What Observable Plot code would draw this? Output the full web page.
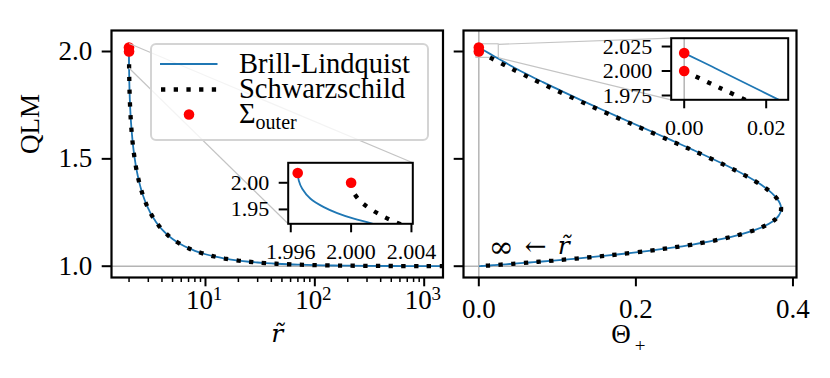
<!DOCTYPE html>
<html><head><meta charset="utf-8">
<script src="https://cdn.jsdelivr.net/npm/d3@7"></script>
<script src="https://cdn.jsdelivr.net/npm/@observablehq/plot@0.6"></script>
<style>
body{margin:0;background:white}
#c{position:relative;width:830px;height:378px;overflow:hidden;background:white;font-family:"Liberation Serif",serif;color:black}
#c svg{position:absolute;left:0;top:0}
.lg{position:absolute;font-size:28.5px;line-height:25px;white-space:nowrap}
</style></head><body><div id="c"></div>
<script>
// ---- data ----
const schwR = [2, 2.0001, 2.0002, 2.0005, 2.001, 2.002, 2.003, 2.004, 2.007, 2.01, 2.02, 2.04, 2.07, 2.1, 2.15, 2.2, 2.3, 2.4, 2.5, 2.6, 2.7, 2.8, 2.9, 3, 3.1, 3.25, 3.4, 3.5, 3.75, 4, 4.5, 5, 6, 7, 8, 10, 12, 15, 20, 25, 30, 40, 50, 70, 100, 150, 200, 300, 500, 1000, 1500];
const schwQ = [2, 1.98596, 1.98020, 1.96887, 1.95627, 1.93872, 1.92548, 1.91447, 1.88847, 1.86823, 1.81900, 1.75434, 1.68934, 1.64174, 1.58211, 1.53668, 1.46934, 1.42020, 1.38197, 1.35100, 1.32523, 1.30334, 1.28445, 1.26795, 1.25338, 1.23444, 1.21826, 1.20871, 1.18826, 1.17157, 1.14590, 1.12702, 1.10102, 1.08392, 1.07180, 1.05573, 1.04555, 1.03576, 1.02633, 1.02084, 1.01725, 1.01282, 1.01021, 1.00724, 1.00505, 1.00335, 1.00251, 1.00167, 1.00100, 1.00050, 1.00033];
const schwTheta = [0, 0.007071, 0.009999, 0.015806, 0.022344, 0.031575, 0.038643, 0.044588, 0.058852, 0.070184, 0.098519, 0.137282, 0.177674, 0.207827, 0.245707, 0.274101, 0.314050, 0.340207, 0.357771, 0.369527, 0.377167, 0.381802, 0.384197, 0.384900, 0.384312, 0.381646, 0.377464, 0.374088, 0.364336, 0.353553, 0.331269, 0.309839, 0.272166, 0.241473, 0.216506, 0.178885, 0.152145, 0.124127, 0.094868, 0.076733, 0.064406, 0.048734, 0.039192, 0.028160, 0.019799, 0.013244, 0.009950, 0.006644, 0.003992, 0.001998, 0.001332];

const blR = [1.99646, 1.99653, 1.99676, 1.99731, 1.99819, 1.99908, 2.00018, 2.00129, 2.0025, 2.0045, 2.0075, 2.0105, 2.0205, 2.0405, 2.0705, 2.1, 2.15, 2.2, 2.3, 2.4, 2.5, 2.6, 2.7, 2.8, 2.9, 3, 3.1, 3.25, 3.4, 3.5, 3.75, 4, 4.5, 5, 6, 7, 8, 10, 12, 15, 20, 25, 30, 40, 50, 70, 100, 150, 200, 300, 500, 1000, 1500];
const blQ = [2.0183, 2.0043, 1.9888, 1.9700, 1.9543, 1.9431, 1.9326, 1.9243, 1.9130, 1.8975, 1.8780, 1.8614, 1.8175, 1.7560, 1.6922, 1.6477, 1.5871, 1.5407, 1.4723, 1.4222, 1.3835, 1.3520, 1.3256, 1.3038, 1.2846, 1.26795, 1.25338, 1.23444, 1.21826, 1.20871, 1.18826, 1.17157, 1.14590, 1.12702, 1.10102, 1.08392, 1.07180, 1.05573, 1.04555, 1.03576, 1.02633, 1.02084, 1.01725, 1.01282, 1.01021, 1.00724, 1.00505, 1.00335, 1.00251, 1.00167, 1.00100, 1.00050, 1.00033];
const blTheta = [0, 0.00688, 0.01433, 0.02337, 0.03091, 0.03630, 0.04135, 0.04534, 0.05116, 0.05940, 0.07003, 0.07929, 0.10422, 0.14060, 0.17967, 0.20722, 0.24508, 0.27346, 0.31348, 0.33994, 0.35770, 0.36950, 0.37715, 0.38180, 0.38420, 0.384900, 0.384312, 0.381646, 0.377464, 0.374088, 0.364336, 0.353553, 0.331269, 0.309839, 0.272166, 0.241473, 0.216506, 0.178885, 0.152145, 0.124127, 0.094868, 0.076733, 0.064406, 0.048734, 0.039192, 0.028160, 0.019799, 0.013244, 0.009950, 0.006644, 0.003992, 0.001998, 0.001332];

const sigmaR = [1.99646, 2.0];
const sigmaQ = [2.0183, 2.0];
const sigmaTheta = [0, 0];

const qTicks = [1.0, 1.5, 2.0];
const decadeTicks = [10, 100, 1000];
const decadeExps = ["1", "2", "3"];
const minorTicks = [2,3,4,5,6,7,8,9,20,30,40,50,60,70,80,90,200,300,400,500,600,700,800,900];
const thetaTicks = [0.0, 0.2, 0.4];
const insetLXTicks = [1.996, 2.000, 2.004];
const insetLYTicks = [1.95, 2.00];
const insetRXTicks = [0.00, 0.02];
const insetRYTicks = [1.975, 2.000, 2.025];
const seriesNames = ["Brill-Lindquist", "Schwarzschild"];

// axis limits
const leftXDom = [1.3821, 1486], qDom = [0.9474, 2.0978], thetaDom = [-0.0195, 0.4045];
const insetLX = [1.99583, 2.00409], insetLY = [1.923, 2.0375];
const insetRX = [-0.00317, 0.02537], insetRY = [1.9706, 2.0335];

// tables
const schw = schwR.map((r, i) => ({r, q: schwQ[i], t: schwTheta[i]}));
const bl = blR.map((r, i) => ({r, q: blQ[i], t: blTheta[i]}));
const sigma = sigmaR.map((r, i) => ({r, q: sigmaQ[i], t: sigmaTheta[i]}));

// ---- layout ----
const W = 830, H = 378, FONT = "Liberation Serif";
const LF = {l:111, r:442.5, t:30, b:277}, RF = {l:463, r:796, t:30, b:277};
const LI = {l:287.7, r:412.3, t:162.3, b:223.3}, RI = {l:670.7, r:787.7, t:37.7, b:99.3};
const BLUE = "#1f77b4", GRID = "#b4b4b4";
function frameOpts(f, fs) {
  return {width: W, height: H, marginLeft: f.l, marginRight: W - f.r, marginTop: f.t, marginBottom: H - f.b,
    style: {background: "transparent", fontFamily: FONT, fontSize: fs + "px", color: "black", overflow: "visible"}};
}
const blLine = (x, filter) => Plot.line(bl, {x, y: "q", filter, stroke: BLUE, strokeWidth: 1.8, curve: "catmull-rom", clip: true});
const schwLine = (x, filter) => Plot.line(schw, {x, y: "q", filter, stroke: "black", strokeWidth: 4.3, strokeDasharray: "4.3 8.4", strokeLinecap: "butt", strokeLinejoin: "miter", curve: "catmull-rom", clip: true});
const sigmaDots = (x) => Plot.dot(sigma, {x, y: "q", r: 5.3, fill: "red"});
const nearHorizon = d => d.r < 2.06;

const c = document.getElementById("c");

// left main
const leftPlot = Plot.plot({...frameOpts(LF, 27),
  x: {type: "log", domain: leftXDom}, y: {domain: qDom},
  marks: [
    Plot.ruleY([1], {stroke: GRID, strokeWidth: 1.5}),
    Plot.rect([0], {x1: insetLX[0], x2: insetLX[1], y1: insetLY[0], y2: insetLY[1], fill: "none", stroke: "#bbb", strokeWidth: 1}),
    blLine("r"), schwLine("r"), sigmaDots("r"),
    Plot.axisY(qTicks, {tickSize: 9.3, tickPadding: 10, strokeWidth: 2, tickFormat: d => d.toFixed(1), label: null, fontSize: 27}),
    Plot.axisX(minorTicks, {tickSize: 5, strokeWidth: 1.5, tickFormat: () => "", label: null}),
    Plot.axisX(decadeTicks, {tickSize: 9.3, strokeWidth: 2, tickFormat: () => "", label: null}),
    Plot.text(decadeTicks, {x: d => d, text: () => "10", frameAnchor: "bottom", dy: 31, dx: -6, fontSize: 27}),
    Plot.text(decadeTicks, {x: d => d, text: (d, i) => decadeExps[i], frameAnchor: "bottom", dy: 22, dx: 12, fontSize: 19}),
    Plot.text(["r\u0303"], {frameAnchor: "bottom", dy: 64, fontSize: 25, fontFamily: "DejaVu Serif", fontStyle: "italic", text: d => d}),
    Plot.text(["QLM"], {frameAnchor: "left", dx: -81, rotate: -90, fontSize: 27, text: d => d}),
    Plot.frame({stroke: "black", strokeWidth: 2.2})
  ]});
c.appendChild(leftPlot);

// right main
const rightPlot = Plot.plot({...frameOpts(RF, 27),
  x: {domain: thetaDom}, y: {domain: qDom},
  marks: [
    Plot.ruleY([1], {stroke: GRID, strokeWidth: 1.5}),
    Plot.ruleX([0], {stroke: GRID, strokeWidth: 1.5}),
    Plot.rect([0], {x1: insetRX[0], x2: insetRX[1], y1: insetRY[0], y2: insetRY[1], fill: "none", stroke: "#bbb", strokeWidth: 1}),
    blLine("t"), schwLine("t"), sigmaDots("t"),
    Plot.text(["\u221E"], {x: 0.0128, y: 1.087, text: d => d, textAnchor: "start", fontSize: 30, fontFamily: "DejaVu Serif"}),
    Plot.text(["\u2190"], {x: 0.0128, y: 1.092, dx: 36, text: d => d, textAnchor: "start", fontSize: 26, fontFamily: "DejaVu Serif"}),
    Plot.text(["r\u0303"], {x: 0.0128, y: 1.096, dx: 69, text: d => d, textAnchor: "start", fontSize: 25, fontFamily: "DejaVu Serif", fontStyle: "italic"}),
    Plot.axisY(qTicks, {tickSize: 9.3, strokeWidth: 2, tickFormat: () => "", label: null}),
    Plot.axisX(thetaTicks, {tickSize: 9.3, tickPadding: 12, strokeWidth: 2, tickFormat: d => d.toFixed(1), label: null, fontSize: 27}),
    Plot.text(["\u0398"], {frameAnchor: "bottom", dy: 65, dx: -9, fontSize: 27, text: d => d}),
    Plot.text(["+"], {frameAnchor: "bottom", dy: 74, dx: 10, fontSize: 19, text: d => d}),
    Plot.frame({stroke: "black", strokeWidth: 2.2})
  ]});
c.appendChild(rightPlot);

// insets (built now, appended later for layering)
const insetL = Plot.plot({...frameOpts(LI, 22),
  x: {domain: insetLX}, y: {domain: insetLY},
  marks: [
    Plot.frame({fill: "white"}),
    blLine("r", nearHorizon), schwLine("r", nearHorizon), sigmaDots("r"),
    Plot.axisX(insetLXTicks, {tickSize: 9, tickPadding: 11, strokeWidth: 2, tickFormat: d => d.toFixed(3), label: null, fontSize: 22}),
    Plot.axisY(insetLYTicks, {tickSize: 9, tickPadding: 10, strokeWidth: 2, tickFormat: d => d.toFixed(2), label: null, fontSize: 22}),
    Plot.frame({stroke: "black", strokeWidth: 2})
  ]});
const insetR = Plot.plot({...frameOpts(RI, 22),
  x: {domain: insetRX}, y: {domain: insetRY},
  marks: [
    Plot.frame({fill: "white"}),
    Plot.ruleX([0], {stroke: GRID, strokeWidth: 1.5}),
    blLine("t", nearHorizon), schwLine("t", nearHorizon), sigmaDots("t"),
    Plot.axisX(insetRXTicks, {tickSize: 9, tickPadding: 11, strokeWidth: 2, tickFormat: d => d.toFixed(2), label: null, fontSize: 22}),
    Plot.axisY(insetRYTicks, {tickSize: 9, tickPadding: 10, strokeWidth: 2, tickFormat: d => d.toFixed(3), label: null, fontSize: 22}),
    Plot.frame({stroke: "black", strokeWidth: 2})
  ]});

// connectors via the scales
const sxL = leftPlot.scale("x"), syL = leftPlot.scale("y"), sxR = rightPlot.scale("x"), syR = rightPlot.scale("y");
const sxLi = insetL.scale("x"), syLi = insetL.scale("y"), sxRi = insetR.scale("x"), syRi = insetR.scale("y");
const conn = [
  {x1: sxL.apply(insetLX[1]), y1: syL.apply(insetLY[1]), x2: sxLi.range[1], y2: syLi.range[1]},
  {x1: sxL.apply(insetLX[0]), y1: syL.apply(insetLY[0]), x2: sxLi.range[0], y2: syLi.range[0]},
  {x1: sxR.apply(insetRX[1]), y1: syR.apply(insetRY[1]), x2: sxRi.range[0], y2: syRi.range[1]},
  {x1: sxR.apply(insetRX[1]), y1: syR.apply(insetRY[0]), x2: sxRi.range[0], y2: syRi.range[0]}
];
const overlay = Plot.plot({width: W, height: H, margin: 0,
  x: {type: "identity", axis: null}, y: {type: "identity", axis: null},
  style: {background: "transparent", overflow: "visible"},
  marks: [Plot.link(conn, {x1: "x1", y1: "y1", x2: "x2", y2: "y2", stroke: "#c4c4c4", strokeWidth: 1.2})]});
c.appendChild(overlay);

// legend
const lg = document.createElement("div");
lg.style.cssText = "position:absolute;left:150px;top:42.5px;width:275px;height:94px;border:2px solid #d4d4d4;border-radius:6px;background:rgba(255,255,255,0.8)";
c.appendChild(lg);
const sw = d3.create("svg").attr("width", W).attr("height", H).style("pointer-events", "none");
sw.append("line").attr("x1", 160).attr("x2", 217.5).attr("y1", 64).attr("y2", 64).attr("stroke", BLUE).attr("stroke-width", 1.8);
sw.append("line").attr("x1", 161).attr("x2", 217.5).attr("y1", 89.5).attr("y2", 89.5).attr("stroke", "black").attr("stroke-width", 4.3).attr("stroke-dasharray", "4.3 8.4");
sw.append("circle").attr("cx", 189).attr("cy", 114.5).attr("r", 5.3).attr("fill", "red");
c.appendChild(sw.node());
seriesNames.forEach((t, i) => {
  const s = document.createElement("div");
  s.className = "lg"; s.textContent = t;
  s.style.left = "239px"; s.style.top = (51 + i * 25) + "px";
  c.appendChild(s);
});
const sg = document.createElement("div");
sg.className = "lg"; sg.style.left = "239px"; sg.style.top = "101px";
sg.innerHTML = "\u03A3<span style='font-size:20px;position:relative;top:6px'>outer</span>";
c.appendChild(sg);

c.appendChild(insetL);
c.appendChild(insetR);
</script></body></html>
